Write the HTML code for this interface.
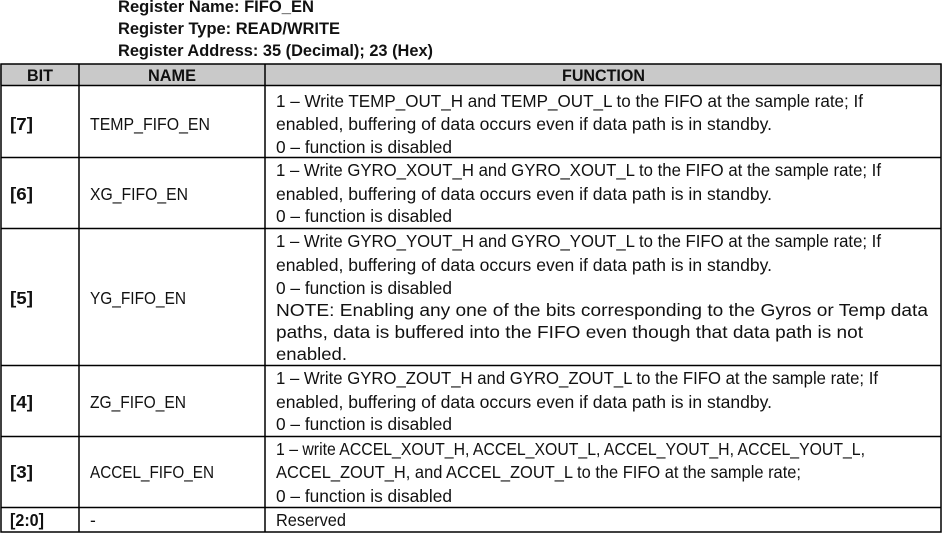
<!DOCTYPE html>
<html><head><meta charset="utf-8"><style>
html,body{margin:0;padding:0;background:#fff;}
svg{display:block;}
text{font-family:"Liberation Sans",sans-serif;fill:#111;font-size:17.5px;}
.b{font-weight:bold;}
.t{font-size:17px;}
.h{font-size:16.5px;}
.n{font-size:17.5px;}
</style></head><body>
<svg width="943" height="533" viewBox="0 0 943 533" xmlns="http://www.w3.org/2000/svg">
<rect x="0" y="64" width="942" height="21" fill="#c9c9c9"/>
<g stroke="#000" stroke-width="1.5" fill="none">
<rect x="1" y="64" width="940" height="468"/>
<line x1="79" y1="64" x2="79" y2="532"/>
<line x1="265" y1="64" x2="265" y2="532"/>
<line x1="1" y1="85.5" x2="941" y2="85.5"/>
<line x1="1" y1="157.5" x2="941" y2="157.5"/>
<line x1="1" y1="228.5" x2="941" y2="228.5"/>
<line x1="1" y1="365.5" x2="941" y2="365.5"/>
<line x1="1" y1="436.5" x2="941" y2="436.5"/>
<line x1="1" y1="507.5" x2="941" y2="507.5"/>
</g>
<g>
<text class="b t" x="118" y="12" textLength="196" lengthAdjust="spacingAndGlyphs">Register Name: FIFO_EN</text>
<text class="b t" x="118" y="34" textLength="222" lengthAdjust="spacingAndGlyphs">Register Type: READ/WRITE</text>
<text class="b t" x="118" y="56" textLength="315" lengthAdjust="spacingAndGlyphs">Register Address: 35 (Decimal); 23 (Hex)</text>

<text class="b h" x="27" y="81" textLength="26" lengthAdjust="spacingAndGlyphs">BIT</text>
<text class="b h" x="148" y="81" textLength="48" lengthAdjust="spacingAndGlyphs">NAME</text>
<text class="b h" x="562" y="81" textLength="83" lengthAdjust="spacingAndGlyphs">FUNCTION</text>

<text class="b" x="10" y="130" textLength="23" lengthAdjust="spacingAndGlyphs">[7]</text>
<text x="90" y="130" textLength="120" lengthAdjust="spacingAndGlyphs">TEMP_FIFO_EN</text>
<text x="276" y="107" textLength="587" lengthAdjust="spacingAndGlyphs">1 – Write TEMP_OUT_H and TEMP_OUT_L to the FIFO at the sample rate; If</text>
<text x="276" y="130" textLength="496" lengthAdjust="spacingAndGlyphs">enabled, buffering of data occurs even if data path is in standby.</text>
<text x="276" y="153" textLength="176" lengthAdjust="spacingAndGlyphs">0 – function is disabled</text>

<text class="b" x="10" y="200" textLength="23" lengthAdjust="spacingAndGlyphs">[6]</text>
<text x="90" y="200" textLength="98" lengthAdjust="spacingAndGlyphs">XG_FIFO_EN</text>
<text x="276" y="176" textLength="605" lengthAdjust="spacingAndGlyphs">1 – Write GYRO_XOUT_H and GYRO_XOUT_L to the FIFO at the sample rate; If</text>
<text x="276" y="200" textLength="496" lengthAdjust="spacingAndGlyphs">enabled, buffering of data occurs even if data path is in standby.</text>
<text x="276" y="222" textLength="176" lengthAdjust="spacingAndGlyphs">0 – function is disabled</text>

<text class="b" x="10" y="304" textLength="23" lengthAdjust="spacingAndGlyphs">[5]</text>
<text x="90" y="304" textLength="96" lengthAdjust="spacingAndGlyphs">YG_FIFO_EN</text>
<text x="276" y="247" textLength="605" lengthAdjust="spacingAndGlyphs">1 – Write GYRO_YOUT_H and GYRO_YOUT_L to the FIFO at the sample rate; If</text>
<text x="276" y="271" textLength="496" lengthAdjust="spacingAndGlyphs">enabled, buffering of data occurs even if data path is in standby.</text>
<text x="276" y="294" textLength="176" lengthAdjust="spacingAndGlyphs">0 – function is disabled</text>
<text class="n" x="276" y="316" textLength="652" lengthAdjust="spacingAndGlyphs">NOTE: Enabling any one of the bits corresponding to the Gyros or Temp data</text>
<text class="n" x="276" y="338" textLength="587" lengthAdjust="spacingAndGlyphs">paths, data is buffered into the FIFO even though that data path is not</text>
<text class="n" x="276" y="360" textLength="71" lengthAdjust="spacingAndGlyphs">enabled.</text>

<text class="b" x="10" y="408" textLength="23" lengthAdjust="spacingAndGlyphs">[4]</text>
<text x="90" y="408" textLength="96" lengthAdjust="spacingAndGlyphs">ZG_FIFO_EN</text>
<text x="276" y="384" textLength="602" lengthAdjust="spacingAndGlyphs">1 – Write GYRO_ZOUT_H and GYRO_ZOUT_L to the FIFO at the sample rate; If</text>
<text x="276" y="408" textLength="496" lengthAdjust="spacingAndGlyphs">enabled, buffering of data occurs even if data path is in standby.</text>
<text x="276" y="430" textLength="176" lengthAdjust="spacingAndGlyphs">0 – function is disabled</text>

<text class="b" x="10" y="478" textLength="23" lengthAdjust="spacingAndGlyphs">[3]</text>
<text x="90" y="478" textLength="124" lengthAdjust="spacingAndGlyphs">ACCEL_FIFO_EN</text>
<text x="276" y="455" textLength="589" lengthAdjust="spacingAndGlyphs">1 – write ACCEL_XOUT_H, ACCEL_XOUT_L, ACCEL_YOUT_H, ACCEL_YOUT_L,</text>
<text x="276" y="478" textLength="525" lengthAdjust="spacingAndGlyphs">ACCEL_ZOUT_H, and ACCEL_ZOUT_L to the FIFO at the sample rate;</text>
<text x="276" y="502" textLength="176" lengthAdjust="spacingAndGlyphs">0 – function is disabled</text>

<text class="b" x="10" y="526" textLength="34" lengthAdjust="spacingAndGlyphs">[2:0]</text>
<text x="90" y="526">-</text>
<text x="276" y="526" textLength="70" lengthAdjust="spacingAndGlyphs">Reserved</text>
</g>
</svg>
</body></html>
